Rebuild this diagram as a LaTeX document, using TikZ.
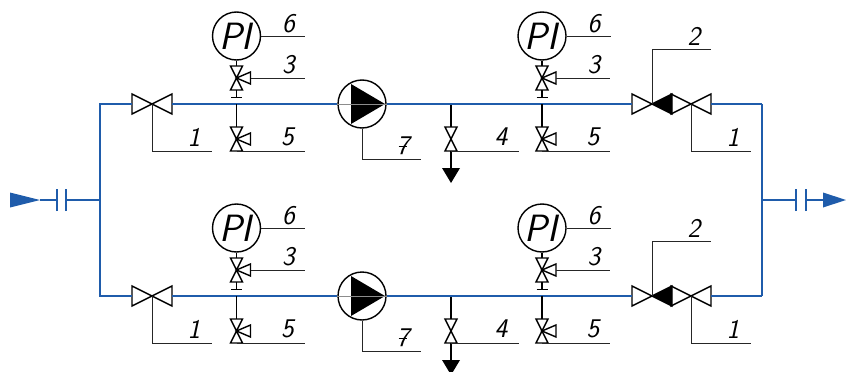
\documentclass[tikz,border=0pt]{standalone}
\definecolor{pipeblue}{HTML}{1F5CAB}
\tikzset{
  pipe/.style={draw=pipeblue,line width=2.2pt},
  line/.style={draw=black,line width=1.4pt},
  leader/.style={draw=black!85,line width=1pt},
  digit/.style={inner sep=0pt,font=\sffamily\itshape\fontsize{27}{27}\selectfont},
  gauge/.style={circle,draw=black,line width=1.4pt,fill=white,minimum size=48pt,inner sep=0pt,
    font=\sffamily\itshape\fontsize{38}{38}\selectfont},
  pump/.style={circle,draw=black,line width=1.4pt,fill=white,minimum size=48pt,inner sep=0pt},
  hvalve/.pic={
    \draw[line,line join=miter] (0,0) -- (-20,-10) -- (-20,10) -- cycle;
    \draw[line,line join=miter] (0,0) -- (20,-10) -- (20,10) -- cycle;
    \coordinate (-w) at (-20,0);
    \coordinate (-e) at (20,0);
    \coordinate (-c) at (0,0);
  },
  vvalve/.pic={
    \draw[line,line join=miter] (0,0) -- (-6,-12) -- (6,-12) -- cycle;
    \draw[line,line join=miter] (0,0) -- (-6,12) -- (6,12) -- cycle;
    \coordinate (-n) at (0,-12);
    \coordinate (-s) at (0,12);
    \coordinate (-c) at (0,0);
  },
  wedge/.pic={
    \draw[line,line join=miter] (0,0) -- (14,-6) -- (14,6) -- cycle;
    \coordinate (-e) at (14,0);
  }
}
\begin{document}
\begin{tikzpicture}[x=1pt,y=-1pt]
\useasboundingbox (0,0) rectangle (846,372);
% inlet and outlet
\coordinate (tl) at (100,104);
\coordinate (bl) at (100,296);
\coordinate (ml) at (100,200);
\coordinate (tr) at (762,104);
\coordinate (br) at (762,296);
\coordinate (mr) at (762,200);
\coordinate (inarrow) at (40,200);
\coordinate (inflA) at (57,200);
\coordinate (inflB) at (66,200);
\coordinate (outflA) at (796,200);
\coordinate (outflB) at (806,200);
\coordinate (outarrow) at (823,200);
\fill[pipeblue] (inarrow) -- (10,192.5) -- (10,207.5) -- cycle;
\fill[pipeblue] (846,200) -- (outarrow |- 0,192.5) -- (outarrow |- 0,207.5) -- cycle;
\draw[pipe] (inarrow) -- (inflA);
\draw[pipe] (inflB) -- (ml);
\draw[pipe] (mr) -- (outflA);
\draw[pipe] (outflB) -- (outarrow);
\foreach \p in {inflA,inflB,outflA,outflB}
\draw[pipe] ([yshift=-11pt]\p) -- ([yshift=11pt]\p);
\foreach \r/\dy in {a/0,b/192} {
\begin{scope}[shift={(0,\dy)}]
\pic (vl\r) at (152,104) {hvalve};
\pic (vm\r) at (652,104) {hvalve};
\pic (vr\r) at (691,104) {hvalve};
\fill (vm\r-c) -- (672,94) -- (672,114) -- cycle;
\node[pump] (pump\r) at (362,104) {};
\fill (351,84) -- (351,124) -- (385,104) -- cycle;
\draw[leader,draw=black!45] (pump\r.west) -- (pump\r.east);
% drain
\coordinate (tee\r) at (451,104);
\pic (vd\r) at (451,139) {vvalve};
\coordinate (drain\r) at (451,168);
\draw[line] (tee\r) -- (vd\r-n);
\draw[line] (vd\r-s) -- (drain\r);
\fill (442,168) -- (460,168) -- (451,183) -- cycle;
% leaders of the line items
\coordinate (l1a\r) at (152,151);
\coordinate (l1b\r) at (212,151);
\node[digit] (n1a\r) at (194,137) {1};
\draw[leader] (vl\r-c) -- (l1a\r) -- (l1b\r);
\coordinate (l7a\r) at (362,159.5);
\coordinate (l7b\r) at (421,159.5);
\node[digit] (n7\r) at (403,146) {\rlap{\kern2pt\raisebox{8pt}{\rule{8pt}{1.2pt}}}7};
\draw[leader] (pump\r.south) -- (l7a\r) -- (l7b\r);
\coordinate (l4\r) at (519,151);
\node[digit] (n4\r) at (501,137) {4};
\draw[leader] (vd\r-s) -- (l4\r);
\coordinate (l2a\r) at (652,49);
\coordinate (l2b\r) at (711,49);
\node[digit] (n2\r) at (694,36) {2};
\draw[leader] (vm\r-c) -- (l2a\r) -- (l2b\r);
\coordinate (l1c\r) at (691,151);
\coordinate (l1d\r) at (751,151);
\node[digit] (n1b\r) at (733,137) {1};
\draw[leader] (vr\r-c) -- (l1c\r) -- (l1d\r);
% pipe run
\coordinate (end\r) at (762,104);
\draw[pipe] (vl\r-e) -- (pump\r.west);
\draw[pipe] (pump\r.east) -- (vm\r-w);
\draw[pipe] (vr\r-e) -- (end\r);
% pressure gauges
\foreach \g/\x in {l/236.5,r/542} {
\begin{scope}[shift={(\x,0)}]
\node[gauge] (pi\g\r) at (0,36) {PI\kern2pt};
\pic (vu\g\r) at (0,78) {vvalve};
\pic (wu\g\r) at (0,78) {wedge};
\pic (vs\g\r) at (0,139) {vvalve};
\pic (ws\g\r) at (0,139) {wedge};
\coordinate (bar\g\r) at (0,97.5);
\coordinate (tee\g\r) at (0,104);
\draw[line] (pi\g\r) -- (vu\g\r-n);
\draw[line] (vu\g\r-s) -- (bar\g\r);
\draw[line] (-5.5,97.5) -- (5.5,97.5);
\draw[line] (tee\g\r) -- (vs\g\r-n);
\coordinate (l6\g\r) at (68.5,36);
\coordinate (l3\g\r) at (68,78);
\coordinate (l5\g\r) at (68,151);
\node[digit] (n6\g\r) at (52,23.5) {6};
\node[digit] (n3\g\r) at (52,65) {3};
\node[digit] (n5\g\r) at (51,137) {5};
\draw[leader] (pi\g\r.east) -- (l6\g\r);
\draw[leader] (wu\g\r-e) -- (l3\g\r);
\draw[leader] (vs\g\r-s) -- (l5\g\r);
\end{scope}
}
\end{scope}
}
\draw[pipe] (vla-w) -- (tl) -- (bl) -- (vlb-w);
\draw[pipe] (tr) -- (br);
\end{tikzpicture}
\end{document}
